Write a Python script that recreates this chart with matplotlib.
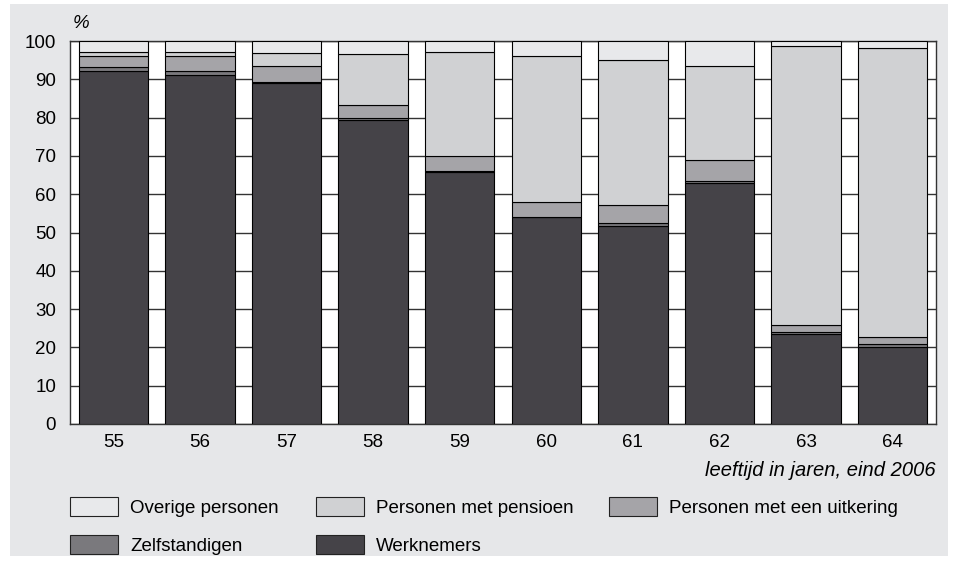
import numpy as np
import matplotlib.pyplot as plt
from matplotlib.patches import Rectangle, Patch

plt.rcParams['font.family'] = ['Liberation Sans', 'DejaVu Sans']

ages = ['55', '56', '57', '58', '59', '60', '61', '62', '63', '64']

werknemers = [92.1, 91.1, 89.0, 79.4, 65.8, 54.0, 51.7, 63.0, 23.4, 20.1]
zelfstandigen = [1.1, 1.0, 0.4, 0.4, 0.3, 0.1, 0.7, 0.5, 0.5, 0.8]
uitkering = [2.9, 4.0, 4.2, 3.5, 4.0, 3.9, 4.9, 5.4, 1.9, 1.9]
pensioen = [0.9, 0.9, 3.2, 13.3, 26.9, 38.1, 37.7, 24.6, 72.9, 75.5]
overige = [3.0, 3.0, 3.2, 3.4, 3.0, 3.9, 5.0, 6.5, 1.3, 1.7]

series = [
    ('Werknemers', werknemers, '#454348'),
    ('Zelfstandigen', zelfstandigen, '#7a797d'),
    ('Personen met een uitkering', uitkering, '#a5a4a8'),
    ('Personen met pensioen', pensioen, '#d0d1d3'),
    ('Overige personen', overige, '#e8e9eb'),
]

fs = 13.5

fig = plt.figure(figsize=(9.59, 5.62), dpi=100)
fig.patch.set_facecolor('white')
fig.patches.append(Rectangle((10 / 959, 1 - 556 / 562), 938 / 959, 552 / 562,
                             transform=fig.transFigure, facecolor='#e6e7e9',
                             edgecolor='none', zorder=-10))

ax = fig.add_axes([70 / 959, 1 - 424 / 562, 866 / 959, 383 / 562])
ax.set_facecolor('white')

x = np.arange(len(ages))
bottom = np.zeros(len(ages))
handles = {}
for name, vals, col in series:
    ax.bar(x, vals, 0.8, bottom=bottom, color=col, edgecolor='black', linewidth=0.8, zorder=3)
    bottom += np.array(vals)
    handles[name] = Patch(facecolor=col, edgecolor='#222222', linewidth=0.8)

ax.set_xlim(-0.5, 9.5)
ax.set_ylim(0, 100)
ax.set_yticks(range(0, 101, 10))
ax.set_xticks(x)
ax.set_xticklabels(ages)
ax.tick_params(axis='both', length=0, labelsize=fs)
ax.tick_params(axis='y', pad=10)
ax.tick_params(axis='x', pad=7)
ax.grid(axis='y', color='#333333', linewidth=1)
ax.set_axisbelow(True)
for s in ax.spines.values():
    s.set_color('#333333')
    s.set_linewidth(1)

fig.text(73 / 959, 1 - 23 / 562, '%', fontsize=fs, style='italic', va='center', ha='left')
fig.text(936 / 959, 1 - 471 / 562, 'leeftijd in jaren, eind 2006', fontsize=14.5,
         style='italic', va='center', ha='right')

columns = [
    (70, ['Overige personen', 'Zelfstandigen']),
    (316, ['Personen met pensioen', 'Werknemers']),
    (609, ['Personen met een uitkering']),
]
for xpos, names in columns:
    leg = fig.legend([handles[n] for n in names], names, loc='upper left',
                     bbox_to_anchor=(xpos / 959, 1 - 497 / 562), frameon=False,
                     fontsize=fs, handlelength=2.55, handleheight=1.15,
                     handletextpad=0.65, labelspacing=1.0, borderpad=0, borderaxespad=0)

plt.savefig('out.png', dpi=100)
